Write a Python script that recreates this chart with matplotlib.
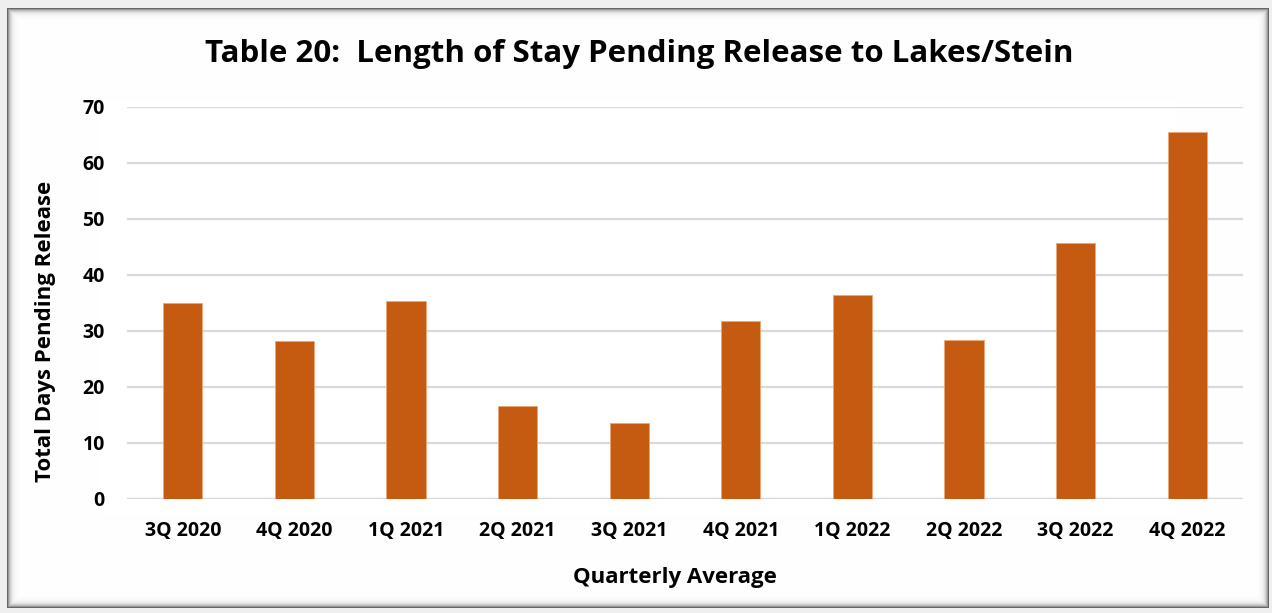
import matplotlib.pyplot as plt
import numpy as np

quarters = ['3Q 2020', '4Q 2020', '1Q 2021', '2Q 2021', '3Q 2021',
            '4Q 2021', '1Q 2022', '2Q 2022', '3Q 2022', '4Q 2022']
days = [35.0, 28.2, 35.3, 16.6, 13.6, 31.8, 36.4, 28.4, 45.8, 65.6]
yticks = [0, 10, 20, 30, 40, 50, 60, 70]

plt.rcParams['font.family'] = ['Open Sans', 'DejaVu Sans']
plt.rcParams['font.weight'] = 'bold'

W, H = 1272, 613
fig = plt.figure(figsize=(W / 100, H / 100), dpi=100)

# framed background with a soft shadow on the edges
bg = fig.add_axes([0, 0, 1, 1])
yy, xx = np.mgrid[0:H, 0:W]
left, right, top, bottom = 7, 1268, 8, 607
inside = (xx >= left) & (xx <= right) & (yy >= top) & (yy <= bottom)
d = np.minimum.reduce([xx - left, right - xx, yy - top, bottom - yy]).astype(float)
val = np.where(inside, 1 - 0.6 * np.exp(-np.clip(d, 0, None) / 2.5), 0.94)
bg.imshow(np.dstack([val, val, val]), aspect='auto', interpolation='bilinear')
bg.axis('off')

ax = fig.add_axes([127 / W, 1 - 499 / H, (1243 - 127) / W, (499 - 107) / H])
ax.set_facecolor('none')
x = np.arange(len(quarters))
ax.bar(x, days, width=0.35, color='#C55A11', edgecolor='#E8A878', linewidth=0.6, zorder=3)
ax.set_xlim(-0.5, len(quarters) - 0.5)
ax.set_ylim(0, 70)
ax.set_yticks(yticks)
ax.set_xticks(x)
ax.set_xticklabels(quarters, fontsize=14, fontweight='bold')
ax.set_yticklabels([str(t) for t in yticks], fontsize=14, fontweight='bold')
ax.yaxis.grid(True, color='#D9D9D9', linewidth=1.6, zorder=0)
ax.tick_params(length=0)
ax.tick_params(axis='y', pad=16)
ax.tick_params(axis='x', pad=16)
for s in ax.spines.values():
    s.set_visible(False)
ax.axhline(0, color='#D9D9D9', linewidth=1.6, zorder=2)

fig.text(639 / W, 1 - 54 / H, 'Table 20:  Length of Stay Pending Release to Lakes/Stein',
         ha='center', va='center', fontsize=22.5, fontweight='bold')
fig.text(675 / W, 1 - 578 / H, 'Quarterly Average', ha='center', va='center',
         fontsize=16, fontweight='bold')
fig.text(46 / W, 1 - 331 / H, 'Total Days Pending Release', ha='center', va='center',
         rotation=90, fontsize=16, fontweight='bold')

fig.savefig('out.png', dpi=100)
